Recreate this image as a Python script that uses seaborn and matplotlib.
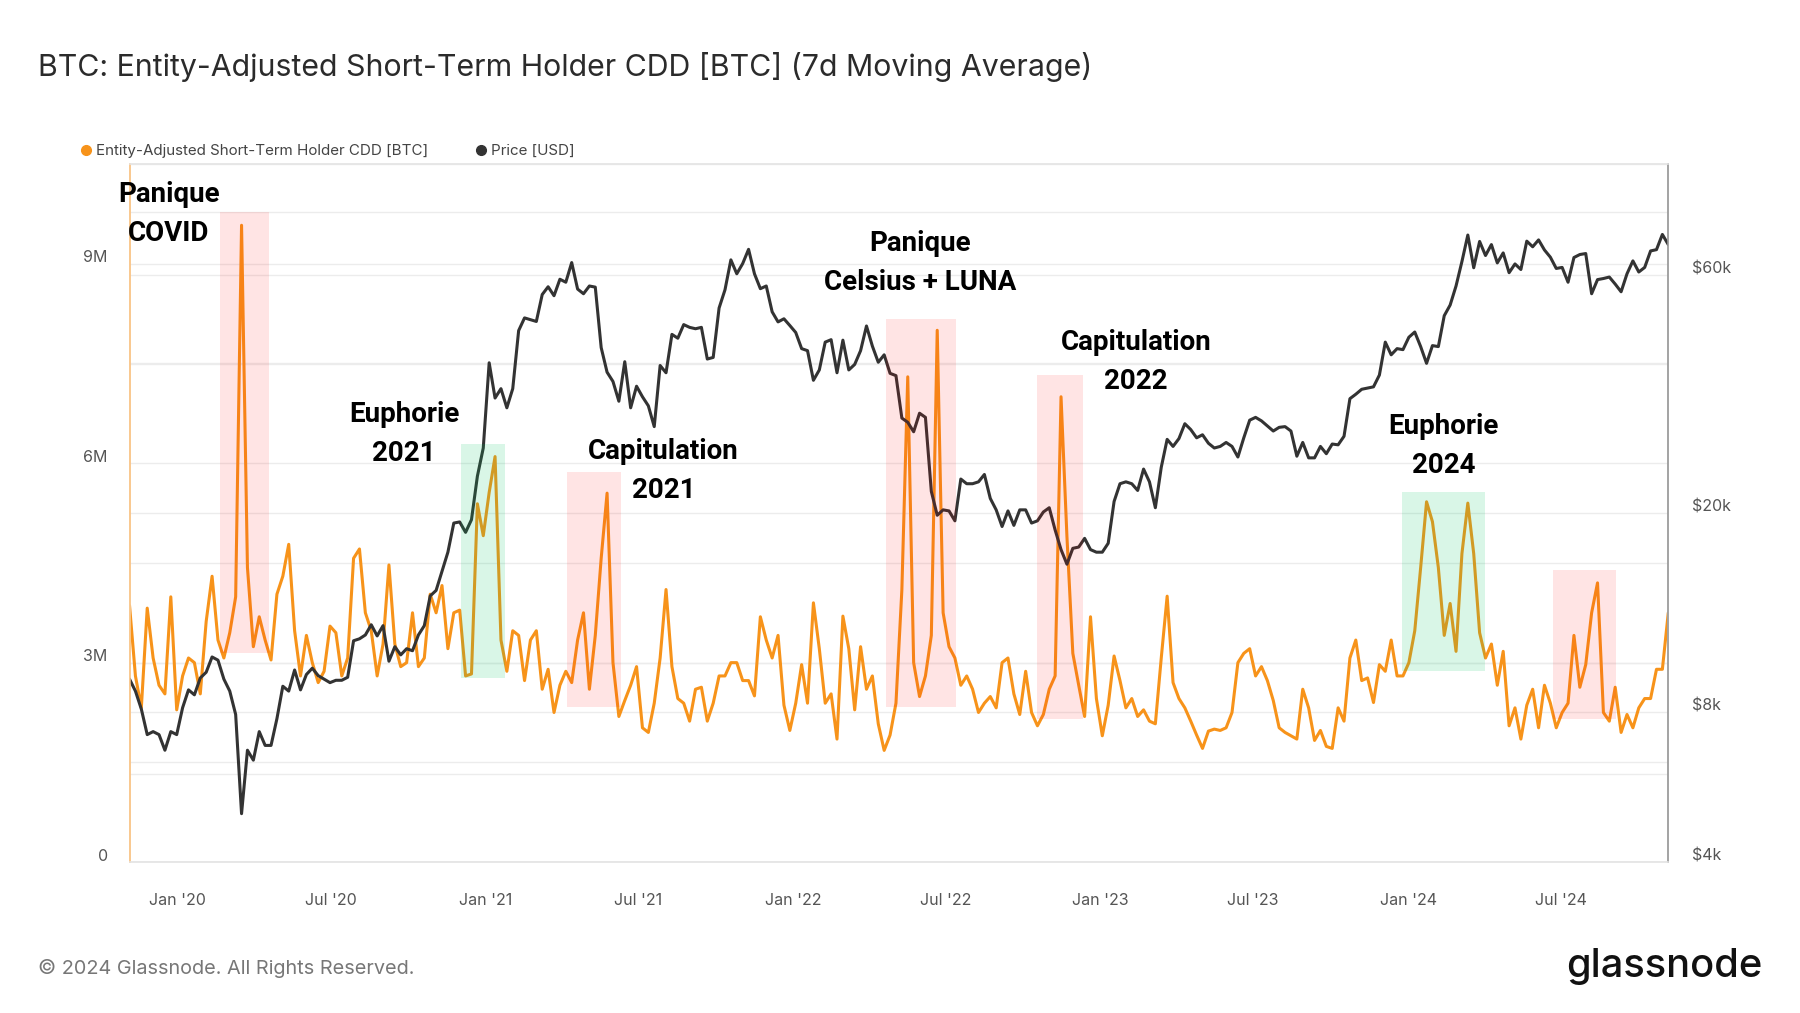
import matplotlib
matplotlib.use("Agg")
import matplotlib.pyplot as plt
import matplotlib.dates as mdates
from matplotlib.lines import Line2D
from matplotlib.patches import Rectangle
from matplotlib.transforms import ScaledTranslation
import seaborn as sns
import pandas as pd

# weekly samples, first point 2019-11-05
START = "2019-11-05"

price_usd = [
    # 2019
    9300, 8800, 8100, 7200, 7300, 7200, 6700, 7300, 7200,
    # 2020
    8150, 8850, 8650, 9350, 9600, 10300, 10150, 9300,
    8800, 7900, 5000, 6700, 6400, 7300, 6850, 6850, 7750,
    9000, 8800, 9700, 8850, 9500, 9780, 9450, 9300, 9150,
    9250, 9250, 9380, 11100, 11200, 11400, 11950, 11350,
    11900, 10100, 10800, 10400, 10700, 10600, 11400, 11900, 13650,
    14000, 15300, 16700, 19100, 19200, 18300, 19400, 23700, 27000,
    # 2021
    40000, 34000, 35500, 32500, 35500, 46400, 49200, 48800,
    48400, 54800, 56800, 54500, 58800, 58000, 63500, 56200, 55000,
    57000, 56700, 42900, 38300, 36700, 33500, 40200, 32500, 35900,
    34200, 32800, 29800, 39500, 38200, 45600, 44800, 47700, 47100,
    46800, 47100, 40700, 41000, 51500, 56000, 64300, 60300,
    63200, 67500, 60300, 56300, 57000, 50600, 48300, 49000, 47500,
    # 2022
    46000, 42700, 42300, 36900, 38700, 44000, 44500, 38200,
    44400, 38700, 39700, 42300, 47400, 43200, 40100, 41500, 38100,
    37700, 31000, 30400, 29100, 31700, 31100, 22100, 19800, 20300,
    20200, 19300, 23400, 22900, 22900, 23100, 23900, 21400, 20300,
    18800, 20200, 18900, 20300, 20300, 19100, 19300, 20100,
    20500, 18500, 16900, 15800, 17000, 17100, 17800, 16900, 16700,
    # 2023
    16700, 17400, 21100, 22900, 23100, 22900, 22200, 24500, 23100,
    20500, 24700, 28100, 27200, 28200, 30200, 29400, 28300,
    28700, 27600, 27000, 27200, 27700, 27200, 25900, 28300, 30700,
    31100, 30600, 29900, 29200, 29700, 29800, 29200, 26000, 27700,
    25800, 25800, 27200, 26300, 27500, 27400, 28500, 33900, 34600,
    35400, 35600, 35800, 37800, 44000, 41500, 42700, 42500,
    # 2024
    45000, 46100, 43100, 39900, 43300, 43100, 49700, 52200, 57000,
    63800, 72100, 62000, 70000, 65600, 69000, 63400, 66400, 60600,
    63100, 61500, 70100, 68300, 70500, 67300, 65100, 61800,
    62100, 58000, 65000, 65900, 66200, 55000, 58700, 59000, 59400,
    57500, 55500, 60300, 64000, 60800, 62100, 67000, 67400, 72300,
    69000,
]

# Entity-adjusted STH CDD, millions of BTC
sth_cdd_m = [
    3.86, 2.80, 2.32, 3.82, 3.07, 2.66, 2.53, 3.99, 2.29, 2.80,
    3.07, 3.00, 2.53, 3.62, 4.30, 3.34, 3.07, 3.45, 3.99, 9.58,
    4.43, 3.24, 3.69, 3.34, 3.04, 4.03, 4.30, 4.78, 3.48, 2.80,
    3.41, 3.00, 2.70, 2.87, 3.55, 3.45, 2.80, 3.07, 4.57, 4.71,
    3.75, 3.48, 2.80, 3.28, 4.47, 3.28, 2.94, 3.00, 3.75, 2.94,
    3.07, 4.03, 3.75, 4.16, 3.21, 3.75, 3.79, 2.80, 2.83, 5.39,
    4.91, 5.56, 6.10, 3.34, 2.87, 3.48, 3.41, 2.73, 3.34, 3.48,
    2.60, 2.90, 2.25, 2.66, 2.87, 2.70, 3.34, 3.75, 2.60, 3.41,
    4.57, 5.55, 3.00, 2.19, 2.43, 2.66, 2.94, 2.02, 1.95, 2.39,
    3.07, 4.10, 2.94, 2.46, 2.39, 2.12, 2.60, 2.63, 2.12, 2.39,
    2.80, 2.80, 3.00, 3.00, 2.73, 2.73, 2.50, 3.69, 3.34, 3.07,
    3.41, 2.36, 1.98, 2.39, 2.97, 2.39, 3.90, 3.21, 2.39, 2.53,
    1.85, 3.70, 3.21, 2.29, 3.24, 2.60, 2.80, 2.08, 1.68, 1.91,
    2.39, 4.09, 7.30, 3.00, 2.49, 2.80, 3.41, 8.00, 3.75, 3.24,
    3.07, 2.66, 2.80, 2.60, 2.25, 2.39, 2.49, 2.32, 3.00, 3.07,
    2.53, 2.22, 2.87, 2.25, 2.05, 2.22, 2.60, 2.80, 7.00, 4.90,
    3.14, 2.66, 2.19, 3.69, 2.46, 1.90, 2.36, 3.10, 2.73, 2.32,
    2.46, 2.19, 2.29, 2.12, 2.08, 3.07, 4.00, 2.70, 2.46, 2.32,
    2.12, 1.91, 1.71, 1.97, 2.00, 1.98, 2.02, 2.25, 3.00, 3.14,
    3.21, 2.80, 2.94, 2.73, 2.43, 2.02, 1.95, 1.90, 1.85, 2.60,
    2.32, 1.83, 1.98, 1.74, 1.71, 2.32, 2.12, 3.07, 3.34, 2.73,
    2.77, 2.40, 2.97, 2.87, 3.34, 2.80, 2.80, 3.00, 3.48, 4.43,
    5.42, 5.12, 4.43, 3.41, 3.89, 3.17, 4.64, 5.40, 4.64, 3.45,
    3.07, 3.28, 2.66, 3.17, 2.05, 2.32, 1.85, 2.36, 2.60, 2.02,
    2.66, 2.39, 2.02, 2.25, 2.39, 3.41, 2.63, 2.97, 3.75, 4.20,
    2.25, 2.12, 2.63, 1.95, 2.22, 2.02, 2.32, 2.46, 2.46, 2.90,
    2.90, 3.75,
]

# highlighted periods: start, end, low/high on the CDD axis (millions)
zone_start = ["2020-02-21", "2020-12-02", "2021-04-07", "2022-04-21",
              "2022-10-17", "2023-12-25", "2024-06-21"]
zone_end = ["2020-04-18", "2021-01-24", "2021-06-10", "2022-07-13",
            "2022-12-11", "2024-04-01", "2024-09-04"]
zone_low = [3.15, 2.77, 2.34, 2.34, 2.15, 2.87, 2.15]
zone_high = [9.78, 6.29, 5.87, 8.17, 7.33, 5.57, 4.39]
zone_kind = ["red", "green", "red", "red", "red", "green", "red"]

notes = ["Panique\nCOVID", "Euphorie\n2021", "Capitulation\n2021",
         "Panique\nCelsius + LUNA", "Capitulation\n2022", "Euphorie\n2024"]
note_date = ["2019-12-22", "2020-09-26", "2021-07-31", "2022-06-01",
             "2023-02-12", "2024-02-12"]
note_y = [9.75, 6.44, 5.88, 9.01, 7.52, 6.26]

left_ticks = [0, 3, 6, 9]
left_labels = ["0", "3M", "6M", "9M"]
right_ticks = [4000, 8000, 20000, 60000]
right_labels = ["$4k", "$8k", "$20k", "$60k"]
right_grid = [4000, 6000, 8000, 10000, 20000, 40000, 60000, 80000]

ORANGE = "#f7931a"
DARK = "#333333"
GRID = "#ececec"

dates = pd.date_range(START, periods=len(price_usd), freq="7D")
df = pd.DataFrame({"date": dates, "cdd": sth_cdd_m, "price": price_usd})

sns.set_theme(style="white")
plt.rcParams["font.family"] = ["Inter", "DejaVu Sans"]

fig = plt.figure(figsize=(18, 10.13), dpi=100)
ax = fig.add_axes([0.0722, 0.149, 0.8545, 0.689])
ax2 = ax.twinx()

ax.set_xlim(pd.Timestamp("2019-11-05 12:00"), pd.Timestamp("2024-11-04 18:00"))
ax.set_ylim(0, 10.5)
ax2.set_yscale("log")
ax2.set_ylim(4000, 100000)

# grid lines for both scales, kept under the data
for v in [i * 1.5 for i in range(8)]:
    ax.axhline(v, color=GRID, lw=1, zorder=0)
for v in right_grid:
    ax.plot([0, 1], [v, v], transform=ax2.get_yaxis_transform(),
            color=GRID, lw=1, zorder=0)

sns.lineplot(data=df, x="date", y="cdd", ax=ax, color=ORANGE, lw=2.2, zorder=2)
sns.lineplot(data=df, x="date", y="price", ax=ax2, color=DARK, lw=2.2, zorder=2)

for s, e, lo, hi, kind in zip(zone_start, zone_end, zone_low, zone_high, zone_kind):
    x0 = mdates.date2num(pd.Timestamp(s))
    x1 = mdates.date2num(pd.Timestamp(e))
    fc = (1.0, 0.0, 0.0, 0.105) if kind == "red" else (0.0, 0.78, 0.39, 0.15)
    ax2.add_patch(Rectangle((x0, lo), x1 - x0, hi - lo, transform=ax.transData,
                            facecolor=fc, edgecolor="none", zorder=5))

for txt, d, y in zip(notes, note_date, note_y):
    ax2.text(pd.Timestamp(d), y, txt, transform=ax.transData, ha="center",
             va="center", fontsize=20, fontweight="bold", color="black",
             family=["Roboto", "DejaVu Sans"], linespacing=1.55, zorder=6)

ax.set_xlabel("")
ax.set_ylabel("")
ax2.set_ylabel("")

ax.xaxis.set_major_locator(mdates.MonthLocator(bymonth=[1, 7]))
ax.xaxis.set_major_formatter(mdates.DateFormatter("%b '%y"))
ax.tick_params(axis="x", length=20, width=1, color="#e6e6e6", pad=2,
               labelsize=11.5, labelcolor="#555555")

ax.set_yticks(left_ticks)
ax.set_yticklabels(left_labels)
ax.tick_params(axis="y", length=0, pad=16, labelsize=11.5, labelcolor="#555555")
ax2.set_yticks(right_ticks)
ax2.set_yticklabels(right_labels)
ax2.yaxis.set_minor_locator(matplotlib.ticker.NullLocator())
ax2.tick_params(axis="y", which="both", length=0, pad=17, labelsize=11.5,
                labelcolor="#555555")

up = ScaledTranslation(0, 0.075, fig.dpi_scale_trans)
for lab in ax.get_yticklabels() + ax2.get_yticklabels():
    lab.set_transform(lab.get_transform() + up)

for a in (ax, ax2):
    a.spines["top"].set_color("#e6e6e6")
    a.spines["bottom"].set_color("#e6e6e6")
    a.spines["left"].set_color("#f9c68b")
    a.spines["right"].set_color("#a0a0a0")
    for sp in a.spines.values():
        sp.set_linewidth(1.1)

fig.text(0.021, 0.934, "BTC: Entity-Adjusted Short-Term Holder CDD [BTC] (7d Moving Average)",
         fontsize=21.8, color="#2b2b2b", va="center", ha="left")

handles = [
    Line2D([], [], marker="o", ls="none", color=ORANGE, markersize=7),
    Line2D([], [], marker="o", ls="none", color=DARK, markersize=7),
]
fig.legend(handles, ["Entity-Adjusted Short-Term Holder CDD [BTC]", "Price [USD]"],
           loc="center left", bbox_to_anchor=(0.036, 0.851), ncol=2, frameon=False,
           fontsize=10.9, handletextpad=0.15, columnspacing=3.0, handlelength=1.0,
           labelcolor="#444444")

fig.text(0.021, 0.044, "\u00a9 2024 Glassnode. All Rights Reserved.", fontsize=14.3,
         color="#777777", va="center", ha="left")
fig.text(0.979, 0.046, "glassnode", fontsize=28.7, color="#111111", va="center",
         ha="right", fontweight="medium")

fig.savefig("out.png", dpi=100)
plt.close(fig)
